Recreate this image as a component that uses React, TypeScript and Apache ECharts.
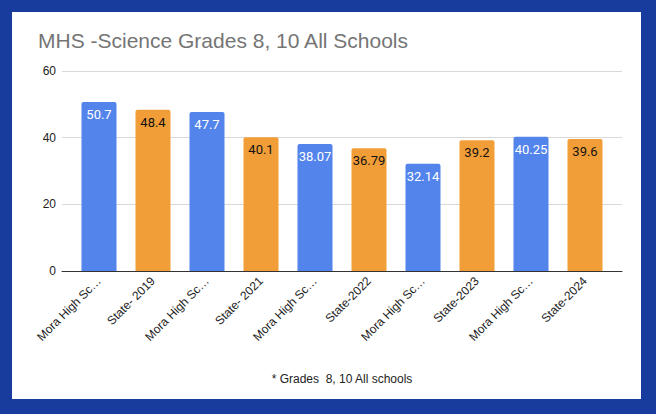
import React, { useEffect, useRef } from "react";
import * as echarts from "echarts";

const categories = [
  "Mora High School- 2019",
  "State- 2019",
  "Mora High School- 2021",
  "State- 2021",
  "Mora High School- 2022",
  "State-2022",
  "Mora High School- 2023",
  "State-2023",
  "Mora High School- 2024",
  "State-2024",
];
const values = [50.7, 48.4, 47.7, 40.1, 38.07, 36.79, 32.14, 39.2, 40.25, 39.6];
const isSchool = [true, false, true, false, true, false, true, false, true, false];
const yTicks = { min: 0, max: 60, interval: 20 };
const titleText = "MHS -Science Grades 8, 10 All Schools";
const xAxisTitle = "* Grades  8, 10 All schools";

const BLUE = "#5384ec";
const ORANGE = "#f29e38";
const FONT = "Liberation Sans, Arial, sans-serif";

export default function App() {
  const ref = useRef<HTMLDivElement>(null);
  useEffect(() => {
    if (!ref.current) return;
    const chart = echarts.init(ref.current, null, { renderer: "svg" });
    chart.setOption({
      animation: false,
      title: {
        text: titleText,
        left: 33,
        top: 25,
        textStyle: {
          fontFamily: FONT,
          fontSize: 21,
          fontWeight: "normal",
          color: "#757575",
        },
      },
      grid: [
        { left: 72, right: 44, top: 71, bottom: 143 },
        { left: 62, right: 34, top: 71, bottom: 143 },
      ],
      xAxis: [
        {
          type: "category",
          gridIndex: 0,
          data: categories,
          name: xAxisTitle,
          nameLocation: "middle",
          nameGap: 102,
          nameTextStyle: { fontFamily: FONT, fontSize: 12, color: "#222" },
          axisLine: { show: false },
          axisTick: { show: false },
          axisLabel: {
            rotate: 45,
            interval: 0,
            margin: 8,
            fontFamily: FONT,
            fontSize: 12,
            color: "#222",
            width: 90,
            overflow: "truncate",
            ellipsis: "…",
          },
        },
        {
          type: "value",
          gridIndex: 1,
          min: 0,
          max: 1,
          axisLine: { show: true, onZero: false, lineStyle: { color: "#333", width: 1 } },
          axisTick: { show: false },
          axisLabel: { show: false },
          splitLine: { show: false },
        },
      ],
      yAxis: [
        {
          type: "value",
          gridIndex: 0,
          min: yTicks.min,
          max: yTicks.max,
          interval: yTicks.interval,
          axisLine: { show: false },
          axisTick: { show: false },
          axisLabel: { show: false },
          splitLine: { show: false },
        },
        {
          type: "value",
          gridIndex: 1,
          min: yTicks.min,
          max: yTicks.max,
          interval: yTicks.interval,
          axisLine: { show: false },
          axisTick: { show: false },
          splitLine: { lineStyle: { color: "#d9d9d9", width: 1 } },
          axisLabel: {
            margin: 6,
            fontFamily: FONT,
            fontSize: 12,
            color: "#222",
          },
        },
      ],
      series: [
        {
          type: "bar",
          xAxisIndex: 0,
          yAxisIndex: 0,
          barWidth: 35,
          z: 3,
          data: values.map((v, i) => ({
            value: v,
            itemStyle: {
              color: isSchool[i] ? BLUE : ORANGE,
              borderRadius: [2, 2, 0, 0],
            },
            label: { color: isSchool[i] ? "#ffffff" : "#111111" },
          })),
          label: {
            show: true,
            position: "insideTop",
            distance: 6,
            fontFamily: "Roboto, sans-serif",
            fontSize: 13,
          },
        },
      ],
    });
    return () => chart.dispose();
  }, []);
  return (
    <div
      style={{
        position: "fixed",
        left: 0,
        top: 0,
        width: 656,
        height: 414,
        background: "#173c9d",
      }}
    >
      <div
        style={{
          position: "absolute",
          left: 12,
          top: 12,
          width: 629,
          height: 387,
          background: "#ffffff",
        }}
      />
      <div
        ref={ref}
        style={{ position: "absolute", left: 0, top: 0, width: 656, height: 414 }}
      />
    </div>
  );
}
